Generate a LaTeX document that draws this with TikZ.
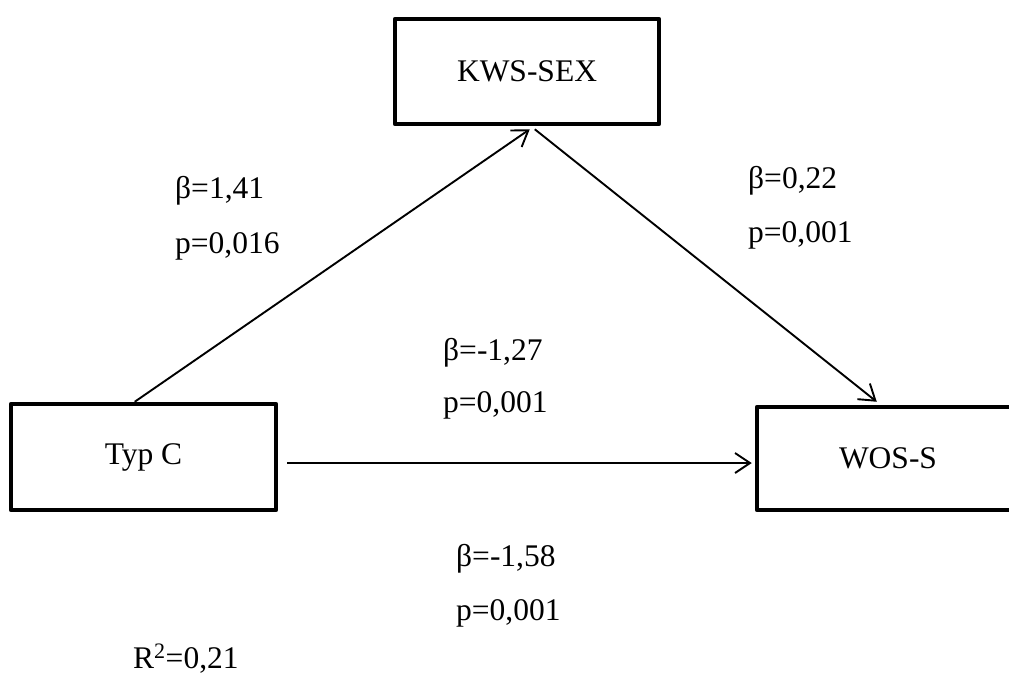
\documentclass[tikz,border=0pt]{standalone}
\usepackage{fontspec}
\setmainfont{Liberation Serif}
\usetikzlibrary{arrows.meta}
\begin{document}
\begin{tikzpicture}[x=1pt,y=-1pt,
  varbox/.style={draw, line width=4.5pt, line join=round, inner sep=0pt,
    font=\fontsize{31.5}{38}\selectfont},
  coef/.style={anchor=base west, inner sep=0pt, font=\fontsize{31.5}{38}\selectfont},
  path/.style={line width=1.9pt, -{Straight Barb[length=15pt,width=20pt,line width=1.9pt]}}]
  \useasboundingbox (0,0) rectangle (1009,673);
  \clip (0,0) rectangle (1009,673);

  % variables
  \node[varbox, minimum width=265pt, minimum height=106pt] (typ) at (143.5,457) {Typ C};
  \node[varbox, minimum width=264pt, minimum height=105pt] (kws) at (527,71.5) {KWS-SEX};
  \node[varbox, minimum width=262pt, minimum height=103pt] (wos) at (888,458.5) {WOS-S};

  % connectors
  \coordinate (typtop) at ([xshift=126pt]typ.north west);
  \coordinate (kwsin) at ([xshift=137pt,yshift=-3pt]kws.south west);
  \coordinate (kwsout) at ([xshift=142pt,yshift=-3pt]kws.south west);
  \coordinate (wosin) at ([xshift=122pt,yshift=3pt]wos.north west);
  \coordinate (typout) at ([xshift=9pt,yshift=-6pt]typ.east);
  \coordinate (wosleft) at ([xshift=-3pt]typout -| wos.west);
  \draw[path] (typtop) -- (kwsin);
  \draw[path] (kwsout) -- (wosin);
  \draw[path] (typout) -- (wosleft);

  % coefficients
  \node[coef] (a1) at (175,198) {β=1,41};
  \node[coef] (a2) at (175,253) {p=0,016};
  \node[coef] (b1) at (748,188) {β=0,22};
  \node[coef] (b2) at (748,242) {p=0,001};
  \node[coef] (c1) at (443,360) {β=-1,27};
  \node[coef] (c2) at (443,412) {p=0,001};
  \node[coef] (d1) at (456,566) {β=-1,58};
  \node[coef] (d2) at (456,620) {p=0,001};
  \node[coef] (r2) at (133,668) {R\textsuperscript{2}=0,21};
\end{tikzpicture}
\end{document}
